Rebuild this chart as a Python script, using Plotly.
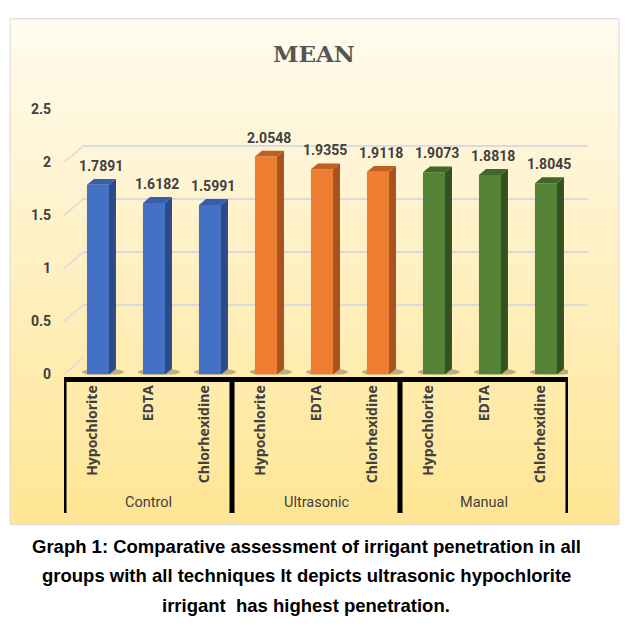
import plotly.graph_objects as go

# data
groups = ["Control", "Ultrasonic", "Manual"]
irrigants = ["Hypochlorite", "EDTA", "Chlorhexidine"]
control_mean = [1.7891, 1.6182, 1.5991]
ultrasonic_mean = [2.0548, 1.9355, 1.9118]
manual_mean = [1.9073, 1.8818, 1.8045]
y_ticks = [0, 0.5, 1, 1.5, 2, 2.5]

title_text = "MEAN"
caption_lines = [
    "Graph 1: Comparative assessment of irrigant penetration in all",
    "groups with all techniques It depicts ultrasonic hypochlorite",
    "irrigant&nbsp; has highest penetration.",
]

W, H = 627, 635


def px(x):
    # screen x (reference pixels) -> paper
    return x / W


def py(y):
    # screen y (reference pixels) -> paper
    return 1 - y / H


# front / top / side colours per group
colors = [
    ("#4471C6", "#3A5FAA", "#2D4B8A"),
    ("#ED7D31", "#C0601F", "#A8531E"),
    ("#548235", "#416628", "#34521F"),
]

series = [control_mean, ultrasonic_mean, manual_mean]
labels = irrigants * len(groups)
positions = list(range(len(labels)))

BW = 0.393    # front face width (category units)
OFF = -0.09   # left edge of front face relative to category centre
DX = 0.125    # bar depth in x
DY = 0.055    # bar depth in y

fig = go.Figure()

# empty trace so the back (grid) subplot is drawn first
fig.add_scatter(x=[], y=[], xaxis="x", yaxis="y", showlegend=False, hoverinfo="skip")

shapes = []
annotations = []

# background gradient of the chart area
top_rgb = (255, 251, 238)
bot_rgb = (255, 229, 148)
n = 60
y_top, y_bot = 11, 530
for i in range(n):
    t = i / (n - 1)
    c = tuple(round(top_rgb[k] + (bot_rgb[k] - top_rgb[k]) * t) for k in range(3))
    y0 = y_top + (y_bot - y_top) * i / n
    y1 = min(y_top + (y_bot - y_top) * (i + 1) / n + 0.6, y_bot)
    shapes.append(dict(type="rect", xref="paper", yref="paper",
                       x0=px(10), x1=px(619), y0=py(y1), y1=py(y0),
                       fillcolor="rgb(%d,%d,%d)" % c, line_width=0, layer="below"))
shapes.append(dict(type="rect", xref="paper", yref="paper",
                   x0=px(10), x1=px(619), y0=py(530), y1=py(11),
                   line=dict(color="#D9D9D9", width=1), layer="below"))

# left wall diagonals linking front ticks to back gridlines
for v in y_ticks:
    shapes.append(dict(type="line", xref="x2", yref="y2", xsizemode="pixel", ysizemode="pixel",
                       xanchor=-0.5, yanchor=v, x0=0, x1=20, y0=0, y1=17,
                       line=dict(color="#DADAE0", width=1.5), layer="below"))

for g, vals in enumerate(series):
    front, top, side = colors[g]
    xs = positions[g * 3:(g + 1) * 3]
    for x, v in zip(xs, vals):
        xl = x + OFF
        xr = xl + BW
        # soft shadow on the floor
        shapes.append(dict(type="circle", xref="x2", yref="y2", xsizemode="pixel",
                           ysizemode="pixel", xanchor=xl + BW / 2, yanchor=0,
                           x0=-16, x1=26, y0=-1, y1=6,
                           fillcolor="rgba(70,60,40,0.35)", line_width=0, layer="below"))
        shapes.append(dict(type="path", xref="x2", yref="y2",
                           path=f"M{xl},{v} L{xl + DX},{v + DY} L{xr + DX},{v + DY} L{xr},{v} Z",
                           fillcolor=top, line_width=0, layer="above"))
        shapes.append(dict(type="path", xref="x2", yref="y2",
                           path=f"M{xr},0 L{xr + DX},{DY} L{xr + DX},{v + DY} L{xr},{v} Z",
                           fillcolor=side, line_width=0, layer="above"))
        annotations.append(dict(x=xl + BW / 2 + DX / 2, y=v + DY, xref="x2", yref="y2",
                                text=f"{v:.4f}", showarrow=False, yanchor="bottom", yshift=3,
                                font=dict(family="Roboto", size=14, color="#404040", weight="bold")))
    fig.add_bar(x=xs, y=vals, width=BW, offset=OFF, marker_color=front,
                marker_line_width=0, xaxis="x2", yaxis="y2",
                showlegend=False, name=groups[g])

# black category frame
frame_top = py(381)
frame_bot = py(518)
shapes.append(dict(type="line", xref="x2", yref="paper", x0=-0.5, x1=8.5,
                   y0=frame_top, y1=frame_top, line=dict(color="black", width=5), layer="above"))
for b in [-0.5, 2.5, 5.5, 8.5]:
    shapes.append(dict(type="line", xref="x2", yref="paper", x0=b, x1=b,
                       y0=frame_bot, y1=py(379), line=dict(color="black", width=5),
                       layer="above"))

# group labels
for g, name in enumerate(groups):
    annotations.append(dict(x=sum(positions[g * 3:(g + 1) * 3]) / 3, y=py(507),
                            xref="x2", yref="paper", text=name, showarrow=False,
                            yanchor="middle",
                            font=dict(family="Roboto", size=14.5, color="#404040")))

# title
annotations.append(dict(x=px(314), y=py(47), xref="paper", yref="paper", text=title_text,
                        showarrow=False, yanchor="middle",
                        font=dict(family="DejaVu Serif", size=23, color="#555555", weight="bold")))

# caption
for i, line in enumerate(caption_lines):
    annotations.append(dict(x=px(306), y=py(552 + 30.5 * i), xref="paper", yref="paper",
                            text=line, showarrow=False, yanchor="middle",
                            font=dict(family="Liberation Sans", size=18.5, color="black",
                                      weight="bold")))

fig.update_layout(
    width=W, height=H,
    margin=dict(l=0, r=0, t=0, b=0),
    paper_bgcolor="white",
    plot_bgcolor="rgba(0,0,0,0)",
    barmode="overlay",
    showlegend=False,
    shapes=shapes,
    annotations=annotations,
    # back plane carrying the gridlines
    xaxis=dict(domain=[px(84), px(588)], range=[-0.5, 8.5], showgrid=False,
               zeroline=False, showticklabels=False, ticks="", showline=False),
    yaxis=dict(domain=[py(359), py(87)], range=[0, 2.5], tickvals=y_ticks,
               showgrid=True, gridcolor="#DADAE0", gridwidth=2, zeroline=False,
               showticklabels=False, ticks="", showline=False, anchor="x"),
    # front plane carrying the bars and labels
    xaxis2=dict(domain=[px(64), px(568)], range=[-0.5, 8.5], anchor="y2",
                tickvals=positions, ticktext=labels, tickangle=-90,
                tickfont=dict(family="Open Sans", size=14, color="#404040", weight="bold"),
                ticks="", ticklabelstandoff=7, showgrid=False, zeroline=False, showline=False),
    yaxis2=dict(domain=[py(376), py(104)], range=[0, 2.5], anchor="x2",
                tickvals=y_ticks, ticktext=[f"{t:g}" for t in y_ticks],
                tickfont=dict(family="Roboto", size=14, color="#404040", weight="bold"),
                ticks="", ticklabelstandoff=12, showgrid=False, zeroline=False, showline=False),
)

# drop the default body margin so the 627x635 figure fills the window exactly
fig.write_html("out.html", config={"displayModeBar": False},
               post_script="document.body.style.margin='0';")
